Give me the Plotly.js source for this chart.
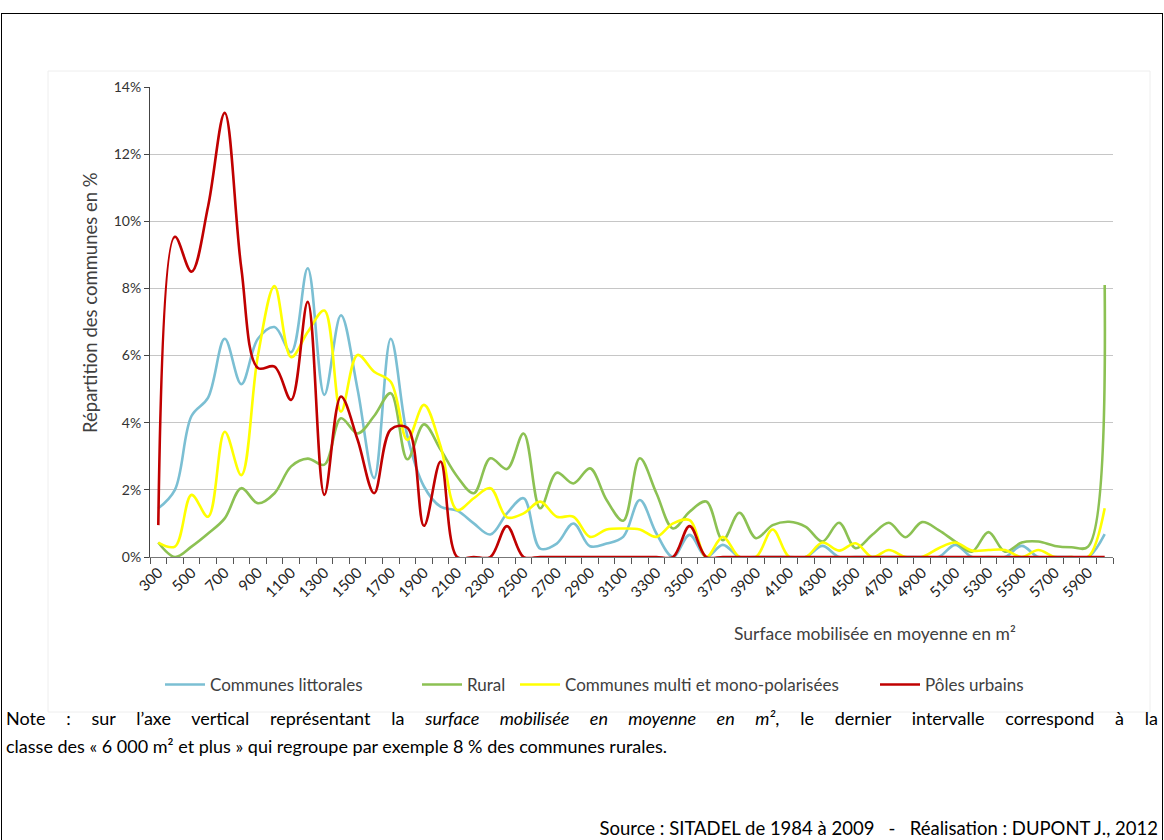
<!DOCTYPE html>
<html>
<head>
<meta charset="utf-8">
<script src="https://cdn.plot.ly/plotly-3.0.1.min.js"></script>
<style>
  html, body { margin:0; padding:0; background:#fff; overflow:hidden; }
  #wrap { position:relative; width:1164px; height:840px; overflow:hidden; }
  #chart { position:absolute; left:0; top:0; width:1164px; height:840px; }
  #frame { position:absolute; left:1px; top:13px; width:1160px; height:900px; border:1px solid #000; pointer-events:none; }
  .txt { position:absolute; font-family: Lato, "Noto Sans", sans-serif; font-size:18px; line-height:22px; color:#000; white-space:nowrap; }
  #note1 { left:6px; top:707px; width:1152px; text-align:justify; text-align-last:justify; white-space:normal; }
  #note2 { left:6px; top:735px; }
  #source { right:6px; top:817px; font-size:18.5px; }
</style>
</head>
<body>
<div id="wrap">
  <div id="chart"></div>
  <div id="frame"></div>
  <div class="txt" id="note1">Note : sur l’axe vertical représentant la <i>surface mobilisée en moyenne en m²</i>, le dernier intervalle correspond à la</div>
  <div class="txt" id="note2">classe des « 6 000 m² et plus » qui regroupe par exemple 8 % des communes rurales.</div>
  <div class="txt" id="source">Source : SITADEL de 1984 à 2009&nbsp;&nbsp; - &nbsp;&nbsp;Réalisation : DUPONT J., 2012</div>
</div>
<script>
// Surface classes (m²), last one = "6 000 m² et plus"
const categories = [300,400,500,600,700,800,900,1000,1100,1200,1300,1400,1500,1600,1700,1800,1900,2000,2100,2200,
  2300,2400,2500,2600,2700,2800,2900,3000,3100,3200,3300,3400,3500,3600,3700,3800,3900,4000,4100,4200,
  4300,4400,4500,4600,4700,4800,4900,5000,5100,5200,5300,5400,5500,5600,5700,5800,5900,6000];

const tickValues = [300,500,700,900,1100,1300,1500,1700,1900,2100,2300,2500,2700,2900,3100,3300,3500,3700,3900,
  4100,4300,4500,4700,4900,5100,5300,5500,5700,5900];
const tickLabels = ["300","500","700","900","1100","1300","1500","1700","1900","2100","2300","2500","2700","2900",
  "3100","3300","3500","3700","3900","4100","4300","4500","4700","4900","5100","5300","5500","5700","5900"];

// Répartition des communes en %
const littorales = [1.45,2.0,4.2,4.75,6.5,5.15,6.5,6.85,6.1,8.6,4.83,7.2,5.0,2.35,6.5,3.6,2.1,1.5,1.38,1.0,
  0.67,1.3,1.75,0.25,0.4,1.0,0.32,0.4,0.6,1.7,0.7,0.0,0.66,0.0,0.36,0.0,0.0,0.0,0.0,0.0,
  0.33,0.0,0.0,0.0,0.0,0.0,0.0,0.0,0.36,0.0,0.0,0.0,0.33,0.0,0.0,0.0,0.0,0.68];
const rural = [0.43,0.0,0.31,0.7,1.15,2.05,1.6,1.9,2.7,2.93,2.75,4.13,3.68,4.2,4.88,2.91,3.95,3.2,2.4,1.9,
  2.94,2.62,3.68,1.45,2.51,2.19,2.64,1.7,1.08,2.94,1.9,0.85,1.35,1.65,0.5,1.32,0.56,0.95,1.05,0.9,
  0.46,1.02,0.26,0.66,1.02,0.59,1.04,0.8,0.46,0.16,0.74,0.16,0.43,0.46,0.33,0.29,0.31,8.1];
const polarisees = [0.43,0.31,1.85,1.2,3.73,2.44,6.0,8.07,5.95,6.7,7.34,4.33,6.02,5.52,5.22,3.49,4.53,3.3,1.4,1.75,
  2.05,1.18,1.3,1.65,1.2,1.2,0.6,0.82,0.85,0.82,0.6,1.0,1.1,0.0,0.6,0.0,0.0,0.82,0.0,0.0,
  0.43,0.19,0.41,0.0,0.21,0.0,0.0,0.26,0.43,0.19,0.21,0.21,0.0,0.21,0.0,0.0,0.0,1.45];
const polesUrbains = [0.95,9.54,8.5,10.45,13.23,8.6,5.63,5.67,4.68,7.6,1.85,4.78,3.5,1.9,3.8,3.85,0.93,2.84,0.0,0.0,
  0.0,0.92,0.0,0.0,0.0,0.0,0.0,0.0,0.0,0.0,0.0,0.0,0.92,0.0,0.0,0.0,0.0,0.0,0.0,0.0,
  0.0,0.0,0.0,0.0,0.0,0.0,0.0,0.0,0.0,0.0,0.0,0.0,0.0,0.0,0.0,0.0,0.0,0.0];

const seriesNames = ["Communes littorales","Rural","Communes multi et mono-polarisées","Pôles urbains"];
const seriesColors = ["#7bbfd3","#8cc153","#ffff00","#c00000"];
const seriesValues = [littorales, rural, polarisees, polesUrbains];
const legendIds = ["legend","legend2","legend3","legend4"];
const legendStartPx = [160, 417, 515, 875];

const traces = seriesValues.map((vals, k) => ({
  type: "scatter",
  mode: "lines",
  x: categories,
  y: vals,
  name: seriesNames[k],
  legend: legendIds[k],
  line: { color: seriesColors[k], width: 2.6, shape: "spline", smoothing: 1 },
  hoverinfo: "x+y+name"
}));

const FONT = "Lato, 'Noto Sans', sans-serif";
const L = 150, R = 51, T = 87, B = 283;
const W = 1164, H = 840;
const pw = W - L - R, ph = H - T - B;
const px = v => (v - L) / pw;
const py = v => (H - B - v) / ph;

const layout = {
  width: W, height: H,
  margin: { l: L, r: R, t: T, b: B },
  paper_bgcolor: "#ffffff",
  plot_bgcolor: "#ffffff",
  font: { family: FONT, size: 13, color: "#333" },
  showlegend: true,
  xaxis: {
    type: "linear",
    range: [250, 6050],
    tickmode: "array",
    tickvals: tickValues,
    ticktext: tickLabels,
    ticks: "",
    tickangle: -45,
    tickfont: { family: FONT, size: 15, color: "#222" },
    showgrid: false,
    zeroline: false,
    showline: true,
    linecolor: "#777",
    linewidth: 1,
    minor: { ticks: "outside", tick0: 250, dtick: 100, ticklen: 6, tickcolor: "#555", tickwidth: 1, showgrid: false },
    fixedrange: true
  },
  yaxis: {
    range: [0, 14],
    dtick: 2,
    tick0: 0,
    ticksuffix: "%",
    ticks: "outside",
    ticklen: 5,
    tickcolor: "#444",
    tickfont: { family: FONT, size: 14, color: "#333" },
    showgrid: true,
    gridcolor: "#c6c6c6",
    gridwidth: 1,
    zeroline: false,
    showline: true,
    linecolor: "#444",
    linewidth: 1,
    fixedrange: true
  },
  annotations: [
    {
      text: "Répartition des communes en %",
      xref: "paper", yref: "paper",
      x: px(90), y: py(303),
      xanchor: "center", yanchor: "middle",
      textangle: -90, showarrow: false,
      font: { family: FONT, size: 18.5, color: "#404040" }
    },
    {
      text: "Surface mobilisée en moyenne en m²",
      xref: "paper", yref: "paper",
      x: px(875), y: py(633),
      xanchor: "center", yanchor: "middle",
      showarrow: false,
      font: { family: FONT, size: 17.5, color: "#404040" }
    }
  ],
  shapes: [
    {
      type: "rect", xref: "paper", yref: "paper",
      x0: px(48), x1: px(1150), y0: py(712), y1: py(71),
      line: { color: "#eeeeee", width: 1 }, fillcolor: "rgba(0,0,0,0)", layer: "below"
    }
  ]
};

legendIds.forEach((id, k) => {
  layout[id] = {
    orientation: "h",
    x: px(legendStartPx[k]), xanchor: "left",
    y: py(685), yanchor: "middle",
    font: { family: FONT, size: 17, color: "#404040" },
    bgcolor: "rgba(0,0,0,0)",
    itemwidth: 40
  };
});

Plotly.newPlot("chart", traces, layout, { displayModeBar: false, staticPlot: true });
</script>
</body>
</html>
